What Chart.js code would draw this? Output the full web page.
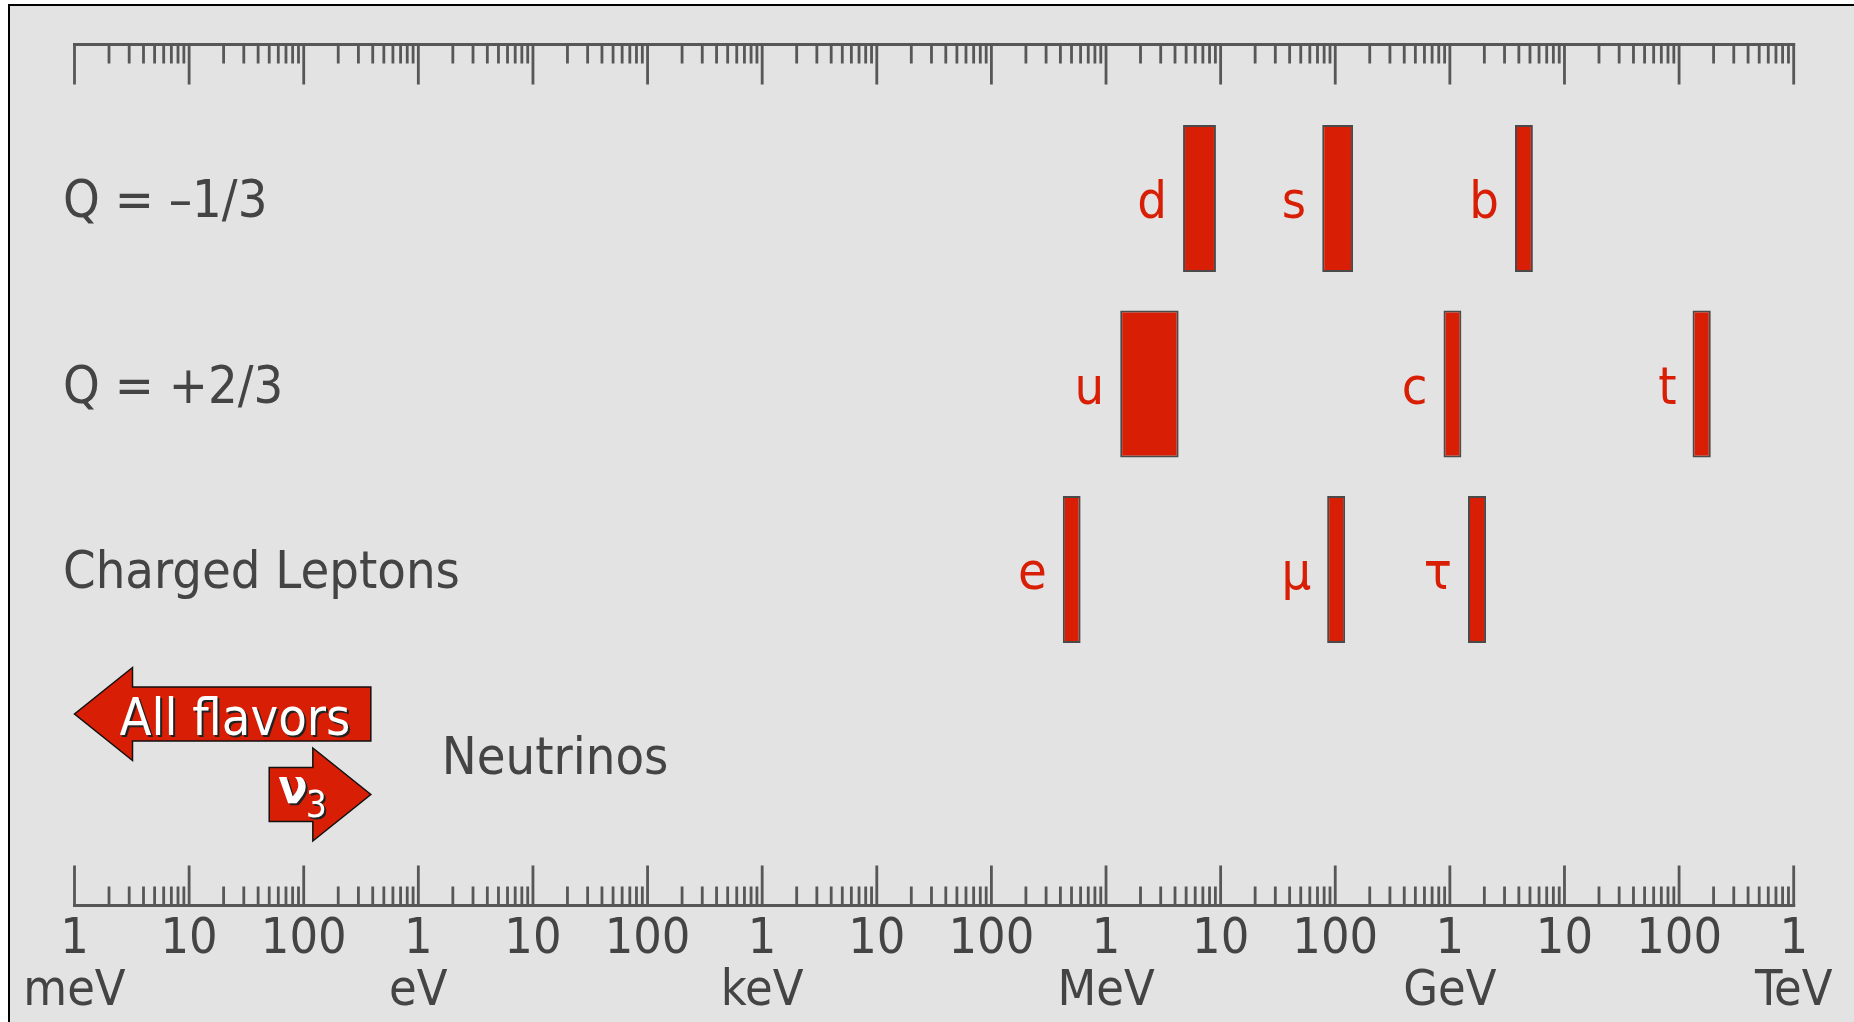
<!DOCTYPE html>
<html>
<head>
<meta charset="utf-8">
<title>Fermion masses</title>
<script src="https://cdn.jsdelivr.net/npm/chart.js@4.4.1/dist/chart.umd.min.js"></script>
<style>
  html, body { margin: 0; padding: 0; background: #fff; }
  #wrap { width: 1854px; height: 1022px; }
</style>
</head>
<body>
<div id="wrap"><canvas id="chart"></canvas></div>
<script>
const rows = ['Q = –1/3', 'Q = +2/3', 'Charged Leptons', 'Neutrinos'];

// masses in eV, [low, high] as drawn
const gen1Names = ['d', 'u', 'e'];
const gen1Low = [4.7e6, 1.33e6, 0.42e6];
const gen1High = [9.1e6, 4.3e6, 0.6e6];

const gen2Names = ['s', 'c', 'μ'];
const gen2Low = [77e6, 0.88e9, 85e6];
const gen2High = [143e6, 1.26e9, 122e6];

const gen3Names = ['b', 't', 'τ'];
const gen3Low = [3.7e9, 131e9, 1.44e9];
const gen3High = [5.3e9, 189e9, 2.07e9];

// neutrinos (eV)
const allFlavorsMax = 0.385;
const nu3Min = 0.05;

const decadeLabels = ['1', '10', '100'];
const unitLabels = ['meV', 'eV', 'keV', 'MeV', 'GeV', 'TeV'];
const axisMin = 1e-3;
const axisMax = 1e12;

const RED = '#d81e05';
const GREY = '#444444';
const FONT = '"DejaVu Sans Condensed", "DejaVu Sans", sans-serif';

function isDecade(v) {
  const l = Math.log10(v);
  return Math.abs(l - Math.round(l)) < 1e-9;
}

// ruler ticks 1..9 in every decade
const tickValues = [];
for (let k = -3; k < 12; k++) {
  for (let m = 1; m <= 9; m++) tickValues.push(m * Math.pow(10, k));
}
tickValues.push(axisMax);

function pairs(lo, hi) {
  return lo.map((v, i) => [v, hi[i]]).concat([null]);
}

const datasets = [
  { names: gen1Names, data: pairs(gen1Low, gen1High) },
  { names: gen2Names, data: pairs(gen2Low, gen2High) },
  { names: gen3Names, data: pairs(gen3Low, gen3High) }
].map(s => ({
  data: s.data,
  names: s.names,
  backgroundColor: RED,
  borderColor: '#4a4a4a',
  borderWidth: 2,
  borderSkipped: false,
  grouped: false,
  barPercentage: 0.7925,
  categoryPercentage: 1
}));

const frame = {
  id: 'frame',
  beforeDraw(chart) {
    const c = chart.ctx;
    c.save();
    c.fillStyle = '#fff';
    c.fillRect(0, 0, chart.width, chart.height);
    c.fillStyle = '#e3e3e3';
    c.fillRect(9, 5, chart.width, chart.height);
    c.strokeStyle = '#000';
    c.lineWidth = 2;
    c.beginPath();
    c.moveTo(9, chart.height);
    c.lineTo(9, 5);
    c.lineTo(chart.width, 5);
    c.stroke();
    c.restore();
  }
};

const rulers = {
  id: 'rulers',
  afterDraw(chart) {
    const x = chart.scales.x, a = chart.chartArea, c = chart.ctx;
    const topY = a.top - 61.25, botY = a.bottom + 57.75;
    c.save();
    c.strokeStyle = '#575757';
    c.lineWidth = 3;
    c.beginPath();
    c.moveTo(x.left - 1.5, topY); c.lineTo(x.right + 1.5, topY);
    c.moveTo(x.left - 1.5, botY); c.lineTo(x.right + 1.5, botY);
    c.stroke();
    c.lineWidth = 2.8;
    c.beginPath();
    x.ticks.forEach(t => {
      const px = x.getPixelForValue(t.value);
      const len = isDecade(t.value) ? 40 : 19;
      c.moveTo(px, topY); c.lineTo(px, topY + len);
      c.moveTo(px, botY); c.lineTo(px, botY - len);
    });
    c.stroke();
    c.restore();
  }
};

const barNames = {
  id: 'barNames',
  afterDatasetsDraw(chart) {
    const c = chart.ctx;
    c.save();
    c.font = '52px ' + FONT;
    c.fillStyle = RED;
    c.textAlign = 'right';
    c.textBaseline = 'alphabetic';
    chart.data.datasets.forEach((ds, i) => {
      chart.getDatasetMeta(i).data.forEach((bar, j) => {
        if (!ds.data[j]) return;
        const left = Math.min(bar.x, bar.base);
        c.fillText(ds.names[j], left - 16, bar.y + 19.5);
      });
    });
    c.restore();
  }
};

function arrow(c, tail, tip, yc) {
  const dir = Math.sign(tip - tail), head = 58, bh = 27, hh = 46.5;
  const hb = tip - dir * head;
  c.beginPath();
  c.moveTo(tail, yc - bh);
  c.lineTo(hb, yc - bh);
  c.lineTo(hb, yc - hh);
  c.lineTo(tip, yc);
  c.lineTo(hb, yc + hh);
  c.lineTo(hb, yc + bh);
  c.lineTo(tail, yc + bh);
  c.closePath();
  c.fillStyle = RED;
  c.fill();
  c.strokeStyle = '#111';
  c.lineWidth = 1.5;
  c.stroke();
}

const neutrinos = {
  id: 'neutrinos',
  afterDatasetsDraw(chart) {
    const x = chart.scales.x, y = chart.scales.y, c = chart.ctx;
    const cy = y.getPixelForValue(3);
    const x0 = x.getPixelForValue(axisMin);
    const x1 = x.getPixelForValue(allFlavorsMax);
    const x3 = x.getPixelForValue(nu3Min);
    c.save();
    arrow(c, x1, x0, cy - 41);
    arrow(c, x3, x1, cy + 39.5);

    c.textAlign = 'left';
    c.textBaseline = 'alphabetic';
    c.shadowColor = '#222';
    c.shadowOffsetX = 2;
    c.shadowOffsetY = 2;
    c.fillStyle = '#fff';
    c.font = '52px ' + FONT;
    c.fillText('All flavors', x0 + 45, cy - 20);
    c.font = 'bold 48px ' + FONT;
    c.fillText('ν', x3 + 9, cy + 48);
    const w = c.measureText('ν').width;
    c.font = '37px ' + FONT;
    c.fillText('3', x3 + 7 + w, cy + 62);

    c.shadowColor = 'transparent';
    c.fillStyle = GREY;
    c.font = '52px ' + FONT;
    c.fillText(rows[3], x1 + 71, cy + 19);
    c.restore();
  }
};

new Chart(document.getElementById('chart'), {
  type: 'bar',
  data: { labels: rows, datasets: datasets },
  options: {
    indexAxis: 'y',
    responsive: true,
    maintainAspectRatio: false,
    animation: false,
    layout: { padding: { left: 74.5, right: 60.3, top: 105.75, bottom: 0 } },
    plugins: { legend: { display: false }, tooltip: { enabled: false } },
    scales: {
      x: {
        type: 'logarithmic',
        position: 'bottom',
        min: axisMin,
        max: axisMax,
        grid: { display: false, drawTicks: false },
        border: { display: false },
        afterBuildTicks: s => { s.ticks = tickValues.map(v => ({ value: v })); },
        afterFit: s => {
          s.height = 174.25;
          s.paddingLeft = 0;
          s.paddingRight = 0;
        },
        ticks: {
          autoSkip: false,
          maxRotation: 0,
          minRotation: 0,
          padding: 66.5,
          color: GREY,
          font: { family: FONT, size: 50, lineHeight: '52px' },
          callback: v => {
            if (!isDecade(v)) return '';
            const k = Math.round(Math.log10(v)) + 3;
            return [decadeLabels[k % 3], k % 3 === 0 ? unitLabels[k / 3] : ''];
          }
        }
      },
      y: {
        type: 'category',
        offset: true,
        grid: { display: false, drawTicks: false },
        border: { display: false },
        afterFit: s => { s.width = 0; },
        ticks: {
          mirror: true,
          padding: -11.5,
          labelOffset: 5,
          color: GREY,
          font: { family: FONT, size: 52 },
          callback: (v, i) => i < 3 ? rows[i] : ''
        }
      }
    }
  },
  plugins: [frame, rulers, barNames, neutrinos]
});
</script>
</body>
</html>
